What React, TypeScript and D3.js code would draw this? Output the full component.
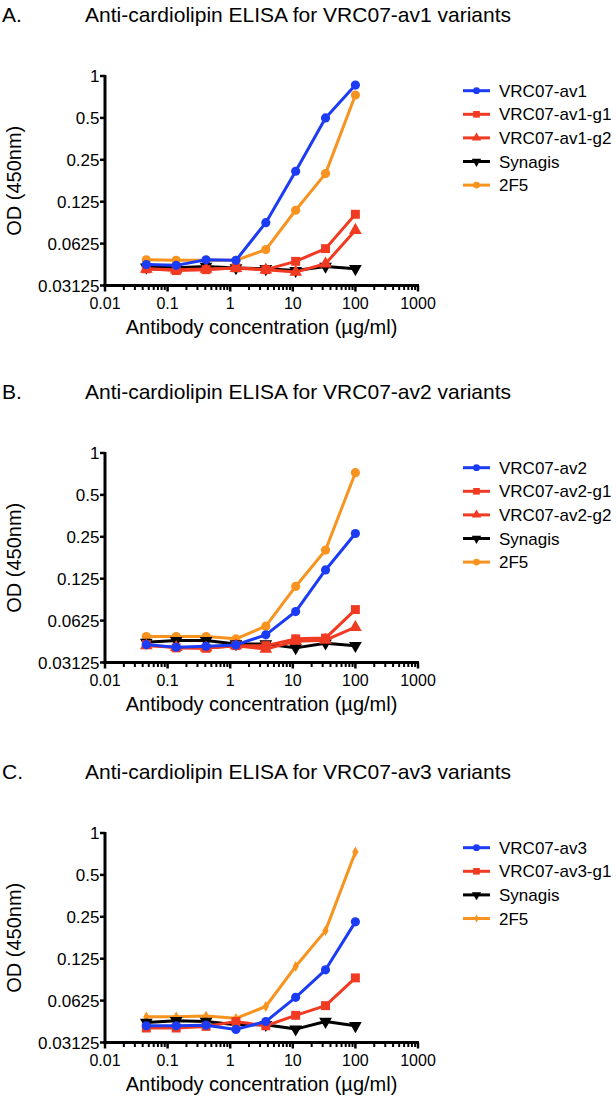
import React from 'react';
import * as d3 from 'd3';

// ---------- data ----------
const concentrations = [0.0457, 0.1372, 0.4115, 1.235, 3.704, 11.11, 33.33, 100];
const xTickValues = [0.01, 0.1, 1, 10, 100, 1000];
const xTickLabels = ['0.01', '0.1', '1', '10', '100', '1000'];
const yTickValues = [0.03125, 0.0625, 0.125, 0.25, 0.5, 1];
const yTickLabels = ['0.03125', '0.0625', '0.125', '0.25', '0.5', '1'];

const panelLetters = ['A.', 'B.', 'C.'];
const panelTitles = [
  'Anti-cardiolipin ELISA for VRC07-av1 variants',
  'Anti-cardiolipin ELISA for VRC07-av2 variants',
  'Anti-cardiolipin ELISA for VRC07-av3 variants',
];
const xAxisTitle = 'Antibody concentration (\u00b5g/ml)';
const yAxisTitle = 'OD (450nm)';

// Panel A
const namesA = ['VRC07-av1', 'VRC07-av1-g1', 'VRC07-av1-g2', 'Synagis', '2F5'];
const a_av1 = [0.0442, 0.0436, 0.0478, 0.0474, 0.0884, 0.207, 0.5, 0.861];
const a_g1 = [0.0412, 0.040, 0.0406, 0.0419, 0.0406, 0.0466, 0.0575, 0.1015];
const a_g2 = [0.041, 0.0405, 0.041, 0.0415, 0.0405, 0.039, 0.0448, 0.078];
const a_syn = [0.0424, 0.042, 0.0428, 0.0418, 0.0412, 0.040, 0.0428, 0.0412];
const a_2f5 = [0.0478, 0.0474, 0.0474, 0.0474, 0.0566, 0.1085, 0.199, 0.73];

// Panel B
const namesB = ['VRC07-av2', 'VRC07-av2-g1', 'VRC07-av2-g2', 'Synagis', '2F5'];
const b_av2 = [0.042, 0.0402, 0.0409, 0.0418, 0.0494, 0.0726, 0.1445, 0.264];
const b_g1 = [0.042, 0.0398, 0.0395, 0.0413, 0.0413, 0.0462, 0.0468, 0.075];
const b_g2 = [0.0413, 0.0402, 0.0398, 0.0413, 0.0390, 0.0445, 0.0452, 0.056];
const b_syn = [0.0436, 0.0449, 0.0449, 0.0425, 0.0425, 0.0398, 0.043, 0.0413];
const b_2f5 = [0.048, 0.048, 0.048, 0.0462, 0.057, 0.110, 0.2007, 0.722];

// Panel C
const namesC = ['VRC07-av3', 'VRC07-av3-g1', 'Synagis', '2F5'];
const c_av3 = [0.0412, 0.0412, 0.0416, 0.0388, 0.0442, 0.066, 0.104, 0.23];
const c_g1 = [0.0397, 0.0397, 0.0408, 0.0442, 0.0412, 0.049, 0.0575, 0.091];
const c_syn = [0.0435, 0.0448, 0.0442, 0.0419, 0.0419, 0.039, 0.0442, 0.0412];
const c_2f5 = [0.0478, 0.0478, 0.0484, 0.0466, 0.0567, 0.110, 0.199, 0.73];

// ---------- styles ----------
const BLUE = '#1b3cf4';
const RED = '#f03a22';
const ORANGE = '#f7931e';
const BLACK = '#000000';
const FONT = '"Liberation Sans", Arial, Helvetica, sans-serif';

type Marker = 'circle' | 'square' | 'triangle' | 'triangleDown' | 'diamond';
interface Series { name: string; values: number[]; color: string; marker: Marker; }

const panels: { offset: number; series: Series[] }[] = [
  {
    offset: 0,
    series: [
      { name: namesA[0], values: a_av1, color: BLUE, marker: 'circle' },
      { name: namesA[1], values: a_g1, color: RED, marker: 'square' },
      { name: namesA[2], values: a_g2, color: RED, marker: 'triangle' },
      { name: namesA[3], values: a_syn, color: BLACK, marker: 'triangleDown' },
      { name: namesA[4], values: a_2f5, color: ORANGE, marker: 'circle' },
    ],
  },
  {
    offset: 377,
    series: [
      { name: namesB[0], values: b_av2, color: BLUE, marker: 'circle' },
      { name: namesB[1], values: b_g1, color: RED, marker: 'square' },
      { name: namesB[2], values: b_g2, color: RED, marker: 'triangle' },
      { name: namesB[3], values: b_syn, color: BLACK, marker: 'triangleDown' },
      { name: namesB[4], values: b_2f5, color: ORANGE, marker: 'circle' },
    ],
  },
  {
    offset: 757,
    series: [
      { name: namesC[0], values: c_av3, color: BLUE, marker: 'circle' },
      { name: namesC[1], values: c_g1, color: RED, marker: 'square' },
      { name: namesC[2], values: c_syn, color: BLACK, marker: 'triangleDown' },
      { name: namesC[3], values: c_2f5, color: ORANGE, marker: 'diamond' },
    ],
  },
];

const X0 = 105, X1 = 418, YTOP = 76, YBOT = 285.5;

function symbolPath(m: Marker, scale: number): string {
  const gen = d3.symbol();
  switch (m) {
    case 'circle': return gen.type(d3.symbolCircle).size(66 * scale)() as string;
    case 'square': return gen.type(d3.symbolSquare).size(80 * scale)() as string;
    case 'triangle':
    case 'triangleDown': return gen.type(d3.symbolTriangle).size(70 * scale)() as string;
    case 'diamond': return gen.type(d3.symbolDiamond).size(34 * scale)() as string;
  }
}

function Panel({ idx }: { idx: number }) {
  const p = panels[idx];
  const x = d3.scaleLog().domain([0.01, 1000]).range([X0, X1]);
  const y = d3.scaleLog().base(2).domain([0.03125, 1]).range([YBOT, YTOP]);
  const line = d3.line<number>()
    .x((_, i) => x(concentrations[i]))
    .y((d) => y(d));
  const minor = x.ticks().filter((t) => !xTickValues.some((v) => Math.abs(v - t) / v < 1e-6));
  const drawOrder = [...p.series].reverse();
  return (
    <g transform={`translate(0,${p.offset})`} fontFamily={FONT}>
      <text x={2} y={22} fontSize={21}>{panelLetters[idx]}</text>
      <text x={85} y={22} fontSize={21}>{panelTitles[idx]}</text>

      {/* series */}
      {drawOrder.map((s) => (
        <g key={s.name}>
          <path d={line(s.values) as string} fill="none" stroke={s.color} strokeWidth={3} strokeLinejoin="round" />
          {s.values.map((v, i) => (
            <path key={i} d={symbolPath(s.marker, 1)} fill={s.color}
              transform={`translate(${x(concentrations[i])},${y(v)})${s.marker === 'triangleDown' ? ' rotate(180)' : ''}`} />
          ))}
        </g>
      ))}

      {/* axes */}
      <line x1={X0} x2={X0} y1={YTOP - 1} y2={YBOT + 1.5} stroke="#000" strokeWidth={3} />
      <line x1={X0 - 1.5} x2={X1 + 1} y1={YBOT} y2={YBOT} stroke="#000" strokeWidth={3} />
      {yTickValues.map((v, i) => (
        <g key={v}>
          <line x1={X0 - 5} x2={X0} y1={y(v)} y2={y(v)} stroke="#000" strokeWidth={2.5} />
          <text x={X0 - 5.5} y={y(v) + 6} fontSize={17} textAnchor="end">{yTickLabels[i]}</text>
        </g>
      ))}
      {xTickValues.map((v, i) => (
        <g key={v}>
          <line x1={x(v)} x2={x(v)} y1={YBOT} y2={YBOT + 6} stroke="#000" strokeWidth={2.5} />
          <text x={x(v)} y={YBOT + 23} fontSize={16} textAnchor="middle">{xTickLabels[i]}</text>
        </g>
      ))}
      {minor.map((v) => (
        <line key={v} x1={x(v)} x2={x(v)} y1={YBOT} y2={YBOT + 4.5} stroke="#000" strokeWidth={2} />
      ))}
      <text x={(X0 + X1) / 2} y={334} fontSize={20} textAnchor="middle">{xAxisTitle}</text>
      <text transform={`translate(21,${(YTOP + YBOT) / 2}) rotate(-90)`} fontSize={20} textAnchor="middle">{yAxisTitle}</text>

      {/* legend */}
      {p.series.map((s, i) => {
        const ly = 90.7 + i * 23.6;
        return (
          <g key={s.name}>
            <line x1={463} x2={490} y1={ly} y2={ly} stroke={s.color} strokeWidth={3} />
            <path d={symbolPath(s.marker, 0.55)} fill={s.color}
              transform={`translate(476.5,${ly})${s.marker === 'triangleDown' ? ' rotate(180)' : ''}`} />
            <text x={499} y={ly + 6} fontSize={17}>{s.name}</text>
          </g>
        );
      })}
    </g>
  );
}

export default function App() {
  return (
    <svg width={616} height={1100} style={{ position: 'absolute', left: 0, top: 0, background: '#fff' }}>
      <rect x={0} y={0} width={616} height={1100} fill="#fff" />
      {panels.map((_, i) => <Panel key={i} idx={i} />)}
    </svg>
  );
}
